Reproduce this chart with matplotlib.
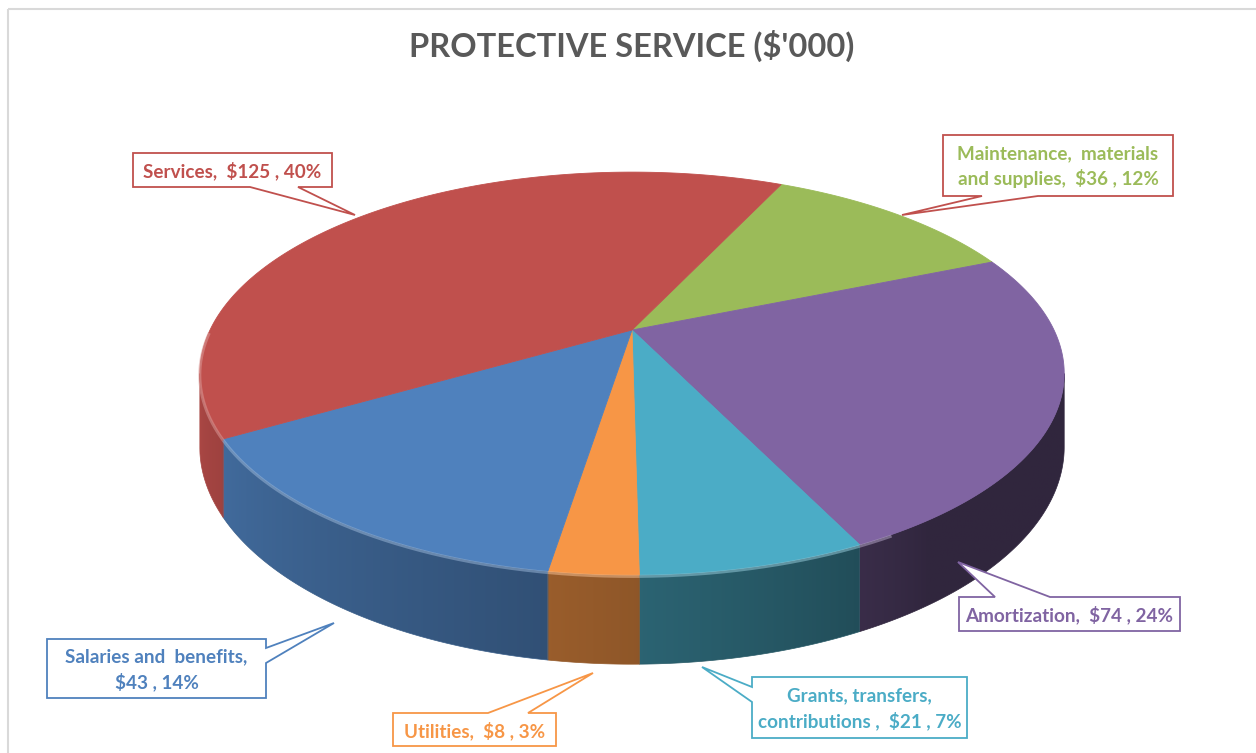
import numpy as np
import matplotlib
matplotlib.use("Agg")
import matplotlib.pyplot as plt
from matplotlib.patches import Polygon, Rectangle
from matplotlib.colors import to_rgb

plt.rcParams['font.family'] = ['Lato', 'DejaVu Sans']

# slices in clockwise order, starting at the top-right edge of the pie
categories = ["Maintenance, materials and supplies", "Amortization",
              "Grants, transfers, contributions", "Utilities",
              "Salaries and benefits", "Services"]
values = [36.4, 74.4, 21.4, 8.4, 43.4, 124.6]  # $'000
colors = ["#9BBB59", "#8064A2", "#4BACC6", "#F79646", "#4F81BD", "#C0504D"]

# how each data label is broken / spaced
label_names = ["Maintenance,  materials\nand supplies", "Amortization",
               "Grants, transfers,\ncontributions ", "Utilities",
               "Salaries and  benefits", "Services"]
label_seps = [",  ", ",  ", ",  ", ",  ", ",\n", ",  "]
box_edge = ["#C0504D", "#8064A2", "#4BACC6", "#F79646", "#4F81BD", "#C0504D"]

title = "PROTECTIVE SERVICE ($'000)"

# callout layout in pixels: box (x0, y0, x1, y1), side of the pointer, pointer base, tip
callouts = [
    ((943, 135, 1173, 196), "bottom", (982, 1038), (902, 215)),
    ((959, 597, 1180, 631), "top", (995, 1050), (958, 562)),
    ((752, 677, 967, 738), "left", (687, 702), (702, 667)),
    ((393, 713, 556, 746), "top", (488, 528), (593, 673)),
    ((47, 639, 266, 698), "right", (648, 663), (334, 623)),
    ((133, 153, 332, 187), "bottom", (250, 298), (355, 215)),
]

# pie geometry (pixels) with a simple perspective divide
CX, CY = 632, 330
RX, RY = 422, 192
PERSP = 0.216
DEPTH = 70
START = 65.0


def rim(phi):
    t = np.radians(phi)
    w = 1 + PERSP * np.sin(t)
    return CX + RX * np.cos(t) / w, CY - RY * np.sin(t) / w, w


def shade(phi):
    s = np.clip((-phi - 55) / 115.0, 0, 1) ** 0.8
    return 0.38 + 0.52 * s


def callout_poly(box, side, base, tip):
    x0, y0, x1, y1 = box
    a, b = base
    if side == "bottom":
        return [(x0, y0), (x1, y0), (x1, y1), (b, y1), tip, (a, y1), (x0, y1)]
    if side == "top":
        return [(x0, y0), (a, y0), tip, (b, y0), (x1, y0), (x1, y1), (x0, y1)]
    if side == "left":
        return [(x0, y0), (x1, y0), (x1, y1), (x0, y1), (x0, b), tip, (x0, a)]
    return [(x0, y0), (x1, y0), (x1, a), tip, (x1, b), (x1, y1), (x0, y1)]


total = sum(values)
fracs = np.array(values) / total
bounds = START - 360 * np.concatenate([[0], np.cumsum(fracs)])

fig = plt.figure(figsize=(12.56, 7.53), dpi=100)
ax = fig.add_axes([0, 0, 1, 1])

ax.add_patch(Rectangle((8, 9), 1300, 800, fill=False, edgecolor="#d9d9d9", lw=1.5))

phi_lo = -180 + np.degrees(np.arcsin(PERSP))
phi_hi = -np.degrees(np.arcsin(PERSP))

# side walls: horizontal shading gradient clipped to each wall
for i, col in enumerate(colors):
    lo = max(bounds[i + 1], phi_lo)
    hi = min(bounds[i], phi_hi)
    if lo >= hi:
        continue
    phis = np.linspace(lo, hi, 300)
    xs, ys, ws = rim(phis)
    yb = ys + DEPTH / ws
    pts = list(zip(xs, ys)) + list(zip(xs[::-1], yb[::-1]))
    wall = Polygon(pts, closed=True, facecolor="none", edgecolor="none")
    ax.add_patch(wall)
    x0, x1 = xs.min(), xs.max()
    y0, y1 = ys.min() - 2, yb.max() + 2
    gx = np.linspace(x0, x1, max(int(x1 - x0), 2))
    gphi = np.interp(gx, xs, phis)
    img = np.array(to_rgb(col))[None, None, :] * shade(gphi)[None, :, None]
    im = ax.imshow(img, extent=(x0, x1, y1, y0), aspect='auto',
                   interpolation='bilinear', zorder=1)
    im.set_clip_path(wall)
    ax.add_patch(Polygon(pts, closed=True, facecolor="none",
                         edgecolor=tuple(np.array(to_rgb(col)) * shade(phis.mean())),
                         lw=0.5, zorder=1.1))

# top faces
for i, col in enumerate(colors):
    phis = np.linspace(bounds[i], bounds[i + 1], 300)
    xs, ys, _ = rim(phis)
    pts = [(CX, CY)] + list(zip(xs, ys))
    ax.add_patch(Polygon(pts, closed=True, facecolor=col, edgecolor=col,
                         lw=0.6, zorder=2))

# soft bevel highlight along the lit part of the front rim
for i, col in enumerate(colors):
    lo = max(bounds[i + 1], phi_lo - 12)
    hi = min(bounds[i], -60)
    if lo >= hi:
        continue
    phis = np.linspace(lo, hi, 200)
    xs, ys, _ = rim(phis)
    light = 0.55 * np.array(to_rgb(col)) + 0.45
    ax.plot(xs, ys + 1.5, color=light, lw=2.2, alpha=0.5,
            solid_capstyle='butt', zorder=3)

ax.text(632, 57, title, ha='center', va='baseline', fontsize=23.5,
        fontweight='bold', color="#595959")

for i, (box, side, base, tip) in enumerate(callouts):
    ax.add_patch(Polygon(callout_poly(box, side, base, tip), closed=True,
                         facecolor="white", edgecolor=box_edge[i], lw=1.3,
                         joinstyle='miter', zorder=4))
    txt = f"{label_names[i]}{label_seps[i]}${values[i]:.0f} , {fracs[i]:.0%}"
    ax.text((box[0] + box[2]) / 2, (box[1] + box[3]) / 2 + 1, txt,
            ha='center', va='center', fontsize=13.6, fontweight='bold',
            color=colors[i], linespacing=1.45, zorder=5)

ax.set_xlim(0, 1256)
ax.set_ylim(753, 0)
ax.axis('off')

fig.savefig("out.png", dpi=100)
